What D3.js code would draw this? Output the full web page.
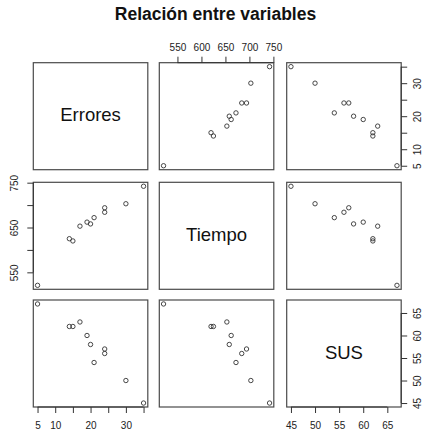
<!DOCTYPE html>
<html>
<head>
<meta charset="utf-8">
<script src="https://cdn.jsdelivr.net/npm/d3@7"></script>
<style>
  html, body { margin: 0; padding: 0; background: #fff; }
  svg { display: block; font-family: "Liberation Sans", Arial, sans-serif; }
</style>
</head>
<body>
<svg id="chart" width="423" height="434"></svg>
<script>
// Scatterplot matrix of three usability measures
const varNames = ["Errores", "Tiempo", "SUS"];
const errores = [5, 14, 15, 17, 19, 20, 21, 24, 24, 30, 35];
const tiempo  = [521, 625, 620, 653, 662, 658, 672, 684, 694, 703, 742];
const sus     = [67, 62, 62, 63, 60, 58, 54, 56, 57, 50, 45];

const erroresTicks  = [5, 10, 15, 20, 25, 30, 35];
const erroresLabels = [5, 10, 20, 30];
const tiempoTicks   = [550, 600, 650, 700, 750];
const tiempoTopLabels  = [550, 600, 650, 700, 750];
const tiempoLeftLabels = [550, 650, 750];
const susTicks  = [45, 50, 55, 60, 65];
const susLabels = [45, 50, 55, 60, 65];

const columns = [errores, tiempo, sus];

const svg = d3.select("#chart");

// Panel geometry
const panelLeft = [33.3, 159.3, 286.7];
const panelTop  = [62.7, 182.3, 300];
const panelW = 114.5, panelH = 107;

// R-style 4% padded extent
function padded(v) {
  const [a, b] = d3.extent(v);
  const p = (b - a) * 0.04;
  return [a - p, b + p];
}

const xScales = columns.map((v, j) =>
  d3.scaleLinear().domain(padded(v)).range([panelLeft[j], panelLeft[j] + panelW]));
const yScales = columns.map((v, i) =>
  d3.scaleLinear().domain(padded(v)).range([panelTop[i] + panelH, panelTop[i]]));

// Title
svg.append("text")
  .attr("x", 215.5).attr("y", 20)
  .attr("text-anchor", "middle")
  .attr("font-size", 17.5).attr("font-weight", "bold")
  .attr("fill", "#111")
  .text("Relación entre variables");

// Panels
for (let i = 0; i < 3; i++) {
  for (let j = 0; j < 3; j++) {
    const g = svg.append("g");
    g.append("rect")
      .attr("x", panelLeft[j]).attr("y", panelTop[i])
      .attr("width", panelW).attr("height", panelH)
      .attr("fill", "none").attr("stroke", "#4a4a4a").attr("stroke-width", 1.2);
    if (i === j) {
      g.append("text")
        .attr("x", panelLeft[j] + panelW / 2)
        .attr("y", panelTop[i] + panelH / 2)
        .attr("dy", "0.28em")
        .attr("text-anchor", "middle")
        .attr("font-size", 18.5)
        .attr("fill", "#111")
        .text(varNames[i]);
    } else {
      const xs = columns[j], ys = columns[i];
      g.selectAll("circle")
        .data(xs.map((x, k) => [x, ys[k]]))
        .join("circle")
        .attr("cx", d => xScales[j](d[0]))
        .attr("cy", d => yScales[i](d[1]))
        .attr("r", 2.2)
        .attr("fill", "none")
        .attr("stroke", "#333")
        .attr("stroke-width", 0.9);
    }
  }
}

// Axis helper: ticks via d3.axis, line spanning first to last tick
function drawAxis(axisFn, scale, ticks, labels, transform, rotated, labelOffset) {
  const axis = axisFn(scale)
    .tickValues(ticks)
    .tickSize(6)
    .tickSizeOuter(0)
    .tickPadding(6)
    .tickFormat(d => labels.includes(d) ? String(d) : "");
  const g = svg.append("g").attr("transform", transform).call(axis);
  g.select(".domain").remove();
  const horiz = (axisFn === d3.axisTop || axisFn === d3.axisBottom);
  const lo = scale(ticks[0]), hi = scale(ticks[ticks.length - 1]);
  g.append("line")
    .attr(horiz ? "x1" : "y1", lo).attr(horiz ? "x2" : "y2", hi)
    .attr(horiz ? "y1" : "x1", 0).attr(horiz ? "y2" : "x2", 0)
    .attr("stroke", "#333");
  g.selectAll(".tick line").attr("stroke", "#333");
  g.selectAll(".tick text")
    .attr("font-size", 10)
    .attr("font-family", "'Liberation Sans', Arial, sans-serif")
    .attr("fill", "#222");
  if (rotated) {
    g.selectAll(".tick text")
      .attr("transform", "rotate(-90)")
      .attr("x", 0)
      .attr("y", labelOffset)
      .attr("dy", "0")
      .attr("text-anchor", "middle");
  } else {
    g.selectAll(".tick text").attr("y", labelOffset).attr("dy", "0");
  }
}

// Top axis over the Tiempo column
drawAxis(d3.axisTop, xScales[1], tiempoTicks, tiempoTopLabels,
  `translate(0,${panelTop[0]})`, false, -12);
// Bottom axes under Errores and SUS columns
drawAxis(d3.axisBottom, xScales[0], erroresTicks, erroresLabels,
  `translate(0,${panelTop[2] + panelH})`, false, 22);
drawAxis(d3.axisBottom, xScales[2], susTicks, susLabels,
  `translate(0,${panelTop[2] + panelH})`, false, 22);
// Left axis beside the Tiempo row
drawAxis(d3.axisLeft, yScales[1], tiempoTicks, tiempoLeftLabels,
  `translate(${panelLeft[0]},0)`, true, -15);
// Right axes beside Errores and SUS rows
drawAxis(d3.axisRight, yScales[0], erroresTicks, erroresLabels,
  `translate(${panelLeft[2] + panelW},0)`, true, 19.5);
drawAxis(d3.axisRight, yScales[2], susTicks, susLabels,
  `translate(${panelLeft[2] + panelW},0)`, true, 19.5);
</script>
</body>
</html>
